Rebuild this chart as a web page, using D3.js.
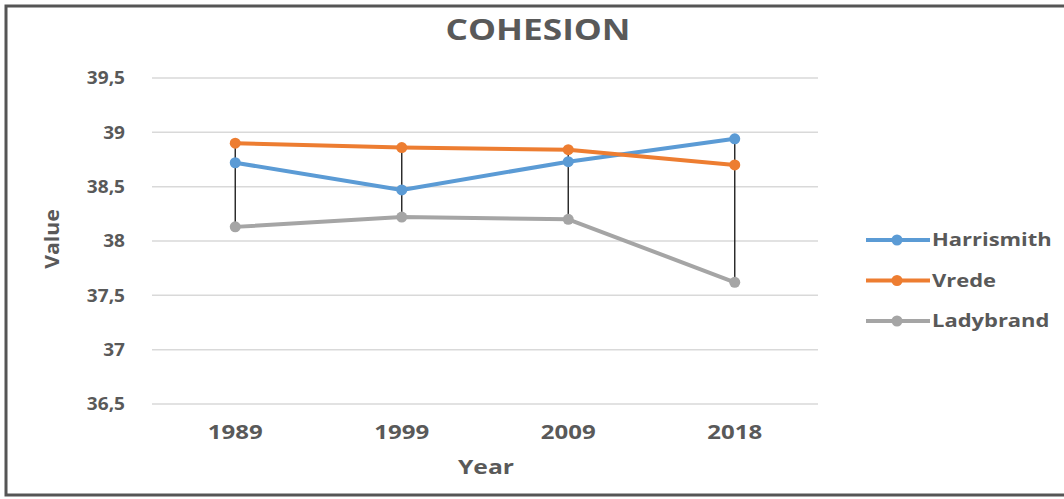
<!DOCTYPE html>
<html>
<head>
<meta charset="utf-8">
<script src="https://cdn.jsdelivr.net/npm/d3@7"></script>
<style>
body{margin:0;background:#fff;}
text{font-family:"Open Sans",Lato,sans-serif;font-weight:bold;fill:#595959;}
</style>
</head>
<body>
<script>
// data
var years = ["1989", "1999", "2009", "2018"];
var harrismith = [38.72, 38.47, 38.73, 38.94];
var vrede = [38.90, 38.86, 38.84, 38.70];
var ladybrand = [38.13, 38.22, 38.20, 37.62];
var yTicks = [36.5, 37, 37.5, 38, 38.5, 39, 39.5];
var seriesNames = ["Harrismith", "Vrede", "Ladybrand"];
var seriesColors = ["#5b9bd5", "#ed7d31", "#a5a5a5"];

var width = 1064, height = 499;
var svg = d3.select("body").append("svg")
	.attr("width", width)
	.attr("height", height);

// frame
svg.append("rect")
	.attr("x", 6).attr("y", 6)
	.attr("width", 1070).attr("height", 489)
	.attr("fill", "#fff")
	.attr("stroke", "#555")
	.attr("stroke-width", 3);

var x = d3.scaleBand().domain(years).range([152, 818]);
var y = d3.scaleLinear().domain([36.5, 39.5]).range([404, 78]);

// the source picture is stretched sideways, so text gets a horizontal scale
function label(px, py, str, size, sx, anchor){
	return svg.append("g")
		.attr("transform", "translate(" + px + "," + py + ") scale(" + sx + ",1)")
		.append("text")
		.attr("dy", "0.35em")
		.attr("text-anchor", anchor)
		.style("font-size", size + "px")
		.text(str);
}

// gridlines
svg.selectAll(".grid")
	.data(yTicks)
	.enter()
	.append("line")
	.attr("class", "grid")
	.attr("x1", 152).attr("x2", 818)
	.attr("y1", function(d){ return y(d); })
	.attr("y2", function(d){ return y(d); })
	.attr("stroke", "#d9d9d9")
	.attr("stroke-width", 1.5);

// y tick labels
yTicks.forEach(function(d){
	label(125, y(d), String(d).replace(".", ","), 18, 1.06, "end");
});

// x tick labels
years.forEach(function(d){
	label(x(d) + x.bandwidth() / 2, 432, d, 20, 1.2, "middle");
});

var series = [harrismith, vrede, ladybrand];

// high-low lines
svg.selectAll(".hilo")
	.data(years)
	.enter()
	.append("line")
	.attr("class", "hilo")
	.attr("x1", function(d){ return x(d) + x.bandwidth() / 2; })
	.attr("x2", function(d){ return x(d) + x.bandwidth() / 2; })
	.attr("y1", function(d, i){ return y(d3.max(series, function(s){ return s[i]; })); })
	.attr("y2", function(d, i){ return y(d3.min(series, function(s){ return s[i]; })); })
	.attr("stroke", "#222")
	.attr("stroke-width", 1.4);

var line = d3.line()
	.x(function(d, i){ return x(years[i]) + x.bandwidth() / 2; })
	.y(function(d){ return y(d); });

series.forEach(function(s, k){
	svg.append("path")
		.datum(s)
		.attr("d", line)
		.attr("fill", "none")
		.attr("stroke", seriesColors[k])
		.attr("stroke-width", 4)
		.attr("stroke-linejoin", "round");
	svg.selectAll(".pt" + k)
		.data(s)
		.enter()
		.append("circle")
		.attr("cx", function(d, i){ return x(years[i]) + x.bandwidth() / 2; })
		.attr("cy", function(d){ return y(d); })
		.attr("r", 5.5)
		.attr("fill", seriesColors[k]);
});

// title
label(538, 30, "COHESION", 28, 1.26, "middle");

// axis titles
label(486, 467, "Year", 19, 1.3, "middle");

svg.append("g")
	.attr("transform", "translate(52,239) rotate(-90) scale(1.12,1)")
	.append("text")
	.attr("dy", "0.35em")
	.attr("text-anchor", "middle")
	.style("font-size", "19px")
	.text("Value");

// legend
seriesNames.forEach(function(name, i){
	var g = svg.append("g")
		.attr("transform", "translate(866," + (240 + i * 40.5) + ")");
	g.append("line")
		.attr("x1", 0).attr("x2", 64)
		.attr("stroke", seriesColors[i])
		.attr("stroke-width", 4);
	g.append("circle")
		.attr("cx", 31).attr("r", 5.5)
		.attr("fill", seriesColors[i]);
	g.append("g")
		.attr("transform", "translate(66,0) scale(1.22,1)")
		.append("text")
		.attr("dy", "0.35em")
		.style("font-size", "18px")
		.text(name);
});
</script>
</body>
</html>
